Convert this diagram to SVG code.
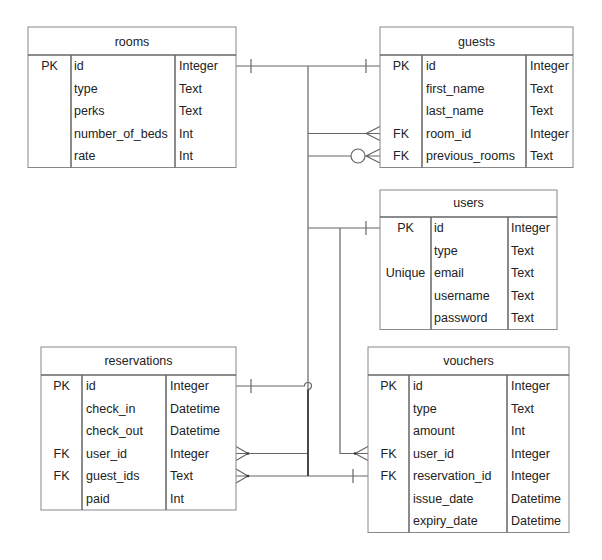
<svg xmlns="http://www.w3.org/2000/svg" width="602" height="560" viewBox="0 0 602 560">
<style>
text{font-family:"Liberation Sans",Arial,sans-serif;font-size:12.5px;fill:#222}
.c{text-anchor:middle}
.box{fill:#fff;stroke:#888;stroke-width:1}
.div{stroke:#666;stroke-width:1.5;fill:none}
.ln{stroke:#666;stroke-width:1.2;fill:none}
.dk{stroke:#333;stroke-width:1.6;fill:none}
</style>
<rect width="602" height="560" fill="#fff"/>
<g id="connectors">
<path class="ln" d="M236,66H380M251,59V73M366,59V73"/>
<path class="ln" d="M308,66V476"/>
<path class="ln" d="M308,133.5H380M366,133.5L380,126.5M366,133.5L380,140.5"/>
<path class="ln" d="M308,156H351M365,156H380M366,156L380,149M366,156L380,163"/>
<circle class="ln" cx="358" cy="156" r="7" fill="#fff"/>
<path class="ln" d="M308,228H380M366,221V235"/>
<path class="ln" d="M340,228V453.5H368M355,453.5L368,446.5M355,453.5L368,460.5"/>
<path class="ln" d="M236,453.5H308M248,453.5L236,446.5M248,453.5L236,460.5"/>
<path class="ln" d="M236,476H368M248,476L236,469M248,476L236,483M353,469V483"/>
<circle cx="248" cy="453.5" r="1.3" fill="#333"/>
<circle cx="248" cy="476" r="1.3" fill="#333"/>
<circle cx="355" cy="453.5" r="1.3" fill="#333"/>
<path class="ln" d="M236,386H304.5A3.5,3.5 0 1 1 308,389.5M251,379V393"/>
<path class="dk" d="M308,389.5V476"/>
</g>
<g id="rooms">
<rect class="box" x="28" y="27" width="208" height="140.5"/>
<path class="div" d="M28,55H236M71,55V167.5M175,55V167.5"/>
<text class="c" x="132" y="45.5">rooms</text>
<text class="c" x="49.5" y="70">PK</text>
<text x="74" y="70">id</text><text x="179" y="70">Integer</text>
<text x="74" y="92.5">type</text><text x="179" y="92.5">Text</text>
<text x="74" y="115">perks</text><text x="179" y="115">Text</text>
<text x="74" y="137.5">number_of_beds</text><text x="179" y="137.5">Int</text>
<text x="74" y="160">rate</text><text x="179" y="160">Int</text>
</g>
<g id="guests">
<rect class="box" x="380" y="27" width="193" height="140.5"/>
<path class="div" d="M380,55H573M422,55V167.5M526,55V167.5"/>
<text class="c" x="476.5" y="45.5">guests</text>
<text class="c" x="401" y="70">PK</text>
<text x="426" y="70">id</text><text x="530" y="70">Integer</text>
<text x="426" y="92.5">first_name</text><text x="530" y="92.5">Text</text>
<text x="426" y="115">last_name</text><text x="530" y="115">Text</text>
<text class="c" x="401" y="137.5">FK</text>
<text x="426" y="137.5">room_id</text><text x="530" y="137.5">Integer</text>
<text class="c" x="401" y="160">FK</text>
<text x="426" y="160">previous_rooms</text><text x="530" y="160">Text</text>
</g>
<g id="users">
<rect class="box" x="380" y="190" width="177" height="139.5"/>
<path class="div" d="M380,217H557M431,217V329.5M508,217V329.5"/>
<text class="c" x="468.5" y="207">users</text>
<text class="c" x="405.5" y="232">PK</text>
<text x="434" y="232">id</text><text x="511" y="232">Integer</text>
<text x="434" y="254.5">type</text><text x="511" y="254.5">Text</text>
<text class="c" x="405.5" y="277">Unique</text>
<text x="434" y="277">email</text><text x="511" y="277">Text</text>
<text x="434" y="299.5">username</text><text x="511" y="299.5">Text</text>
<text x="434" y="322">password</text><text x="511" y="322">Text</text>
</g>
<g id="reservations">
<rect class="box" x="41" y="347" width="195" height="163"/>
<path class="div" d="M41,375H236M82,375V510M166,375V510"/>
<text class="c" x="138.5" y="365">reservations</text>
<text class="c" x="61.5" y="390">PK</text>
<text x="86" y="390">id</text><text x="170" y="390">Integer</text>
<text x="86" y="412.5">check_in</text><text x="170" y="412.5">Datetime</text>
<text x="86" y="435">check_out</text><text x="170" y="435">Datetime</text>
<text class="c" x="61.5" y="457.5">FK</text>
<text x="86" y="457.5">user_id</text><text x="170" y="457.5">Integer</text>
<text class="c" x="61.5" y="480">FK</text>
<text x="86" y="480">guest_ids</text><text x="170" y="480">Text</text>
<text x="86" y="502.5">paid</text><text x="170" y="502.5">Int</text>
</g>
<g id="vouchers">
<rect class="box" x="368" y="347" width="201" height="185.5"/>
<path class="div" d="M368,375H569M409,375V532.5M507,375V532.5"/>
<text class="c" x="468.5" y="365">vouchers</text>
<text class="c" x="388.5" y="390">PK</text>
<text x="413" y="390">id</text><text x="511" y="390">Integer</text>
<text x="413" y="412.5">type</text><text x="511" y="412.5">Text</text>
<text x="413" y="435">amount</text><text x="511" y="435">Int</text>
<text class="c" x="388.5" y="457.5">FK</text>
<text x="413" y="457.5">user_id</text><text x="511" y="457.5">Integer</text>
<text class="c" x="388.5" y="480">FK</text>
<text x="413" y="480">reservation_id</text><text x="511" y="480">Integer</text>
<text x="413" y="502.5">issue_date</text><text x="511" y="502.5">Datetime</text>
<text x="413" y="525">expiry_date</text><text x="511" y="525">Datetime</text>
</g>
</svg>
